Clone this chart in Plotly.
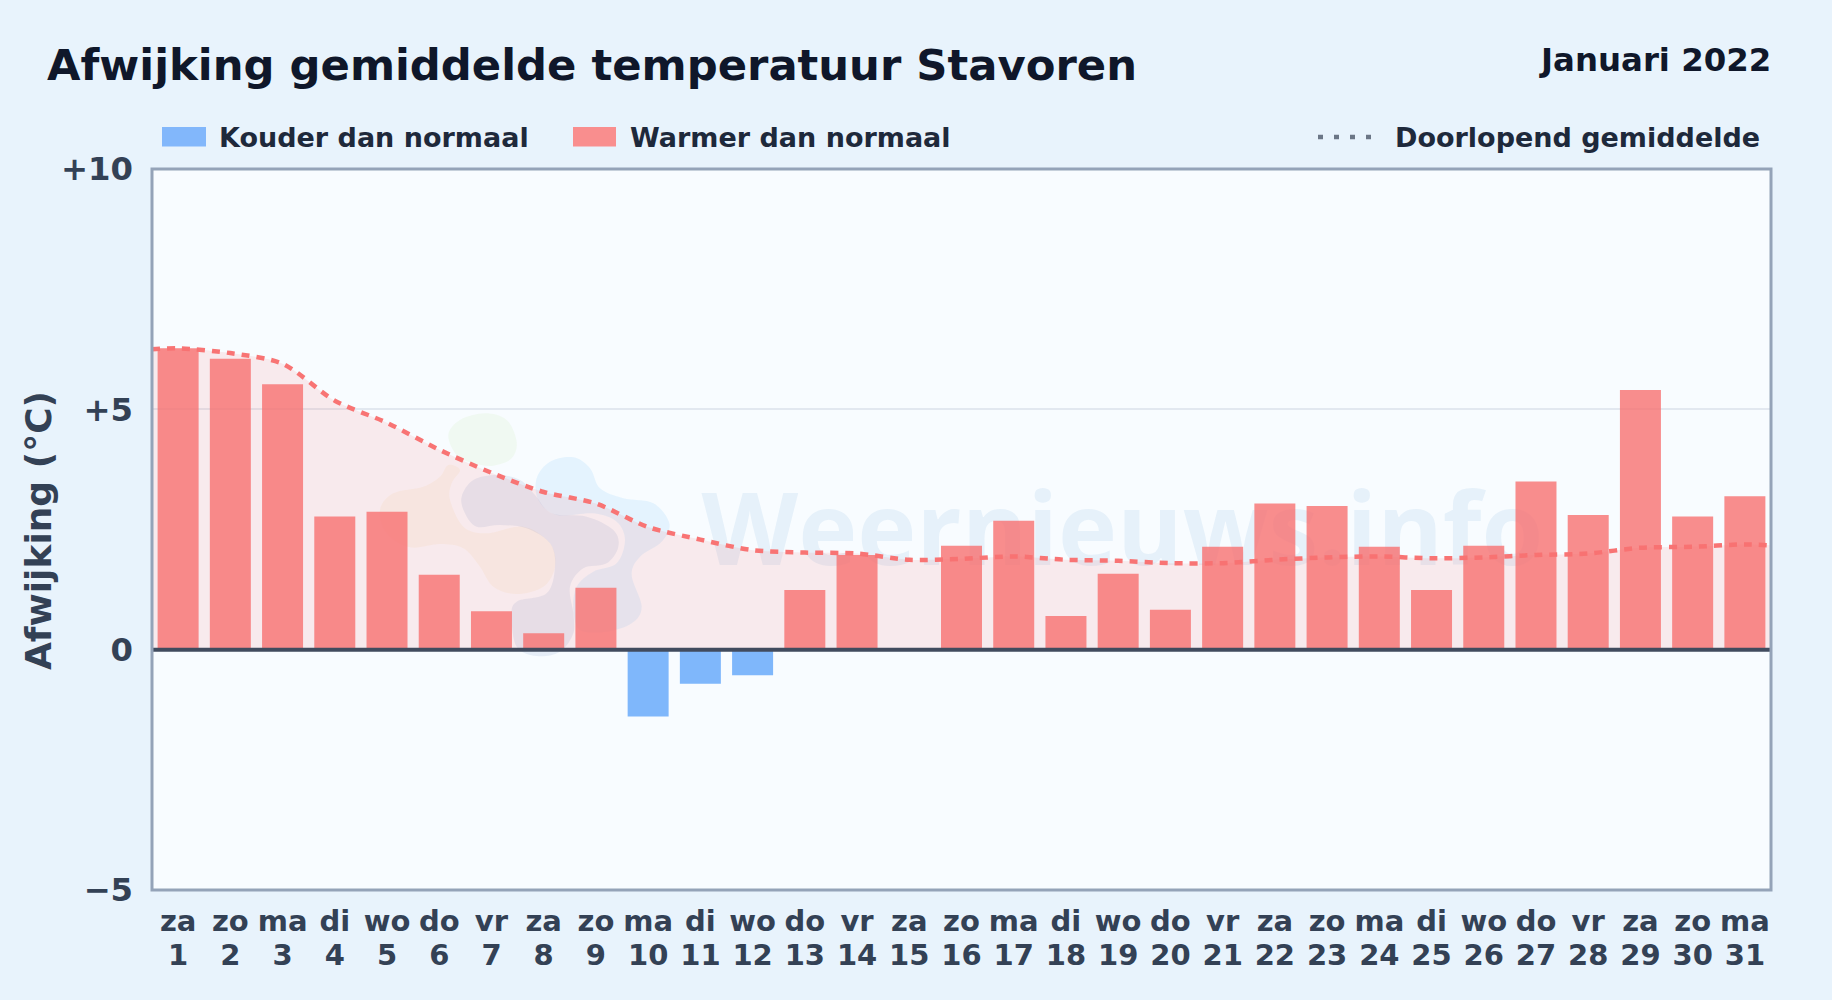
import plotly.graph_objects as go

# ---------- data ----------
days = list(range(1, 32))
weekdays = ["za","zo","ma","di","wo","do","vr","za","zo","ma","di","wo","do","vr","za","zo",
            "ma","di","wo","do","vr","za","zo","ma","di","wo","do","vr","za","zo","ma"]
deviation = [6.27,6.05,5.52,2.77,2.87,1.56,0.80,0.34,1.29,-1.39,-0.71,-0.53,1.24,1.97,0.0,2.16,
             2.68,0.70,1.58,0.83,2.14,3.04,2.99,2.14,1.24,2.16,3.50,2.80,5.40,2.77,3.19]
avg_x = [0.5] + days + [31.5]
running_avg = [6.25,6.27,6.17,5.95,5.18,4.72,4.16,3.68,3.28,3.04,2.55,2.29,2.07,2.02,2.00,1.87,1.89,
               1.94,1.87,1.85,1.80,1.80,1.87,1.92,1.94,1.90,1.92,1.97,2.00,2.12,2.14,2.19,2.17]
y_ticks = [-5, 0, 5, 10]
y_labels = ["−5", "0", "+5", "+10"]

W, H = 1832, 1000
L, R, T, B = 152, 1771, 169, 890
FONT = "DejaVu Sans"

# ---------- watermark outlines (crop-relative pixels, decoration only) ----------
BLOBS = {
 "rgba(175,225,130,0.10)": [(265,105),(300,60),(375,40),(440,60),(470,125),(455,175),(400,197),(340,190),(290,165)],
 "rgba(245,195,110,0.10)": [(265,195),(300,210),(275,250),(270,300),(310,380),(380,400),(490,380),(570,430),(585,500),
                            (550,560),(470,582),(400,560),(360,500),(310,445),(240,432),(150,442),(80,400),(60,330),
                            (100,280),(190,260),(240,230)],
 "rgba(125,200,250,0.16)": [(530,235),(570,185),(640,172),(690,205),(720,265),(790,295),(880,310),(928,370),(905,425),
                            (840,470),(815,525),(845,620),(815,670),(740,695),(660,690),(640,630),(650,560),(700,515),
                            (770,490),(795,420),(770,365),(700,340),(590,345),(535,300)],
 "rgba(80,120,185,0.11)": [(305,290),(340,240),(410,225),(480,240),(525,285),(575,340),(680,350),(760,390),(775,440),
                           (740,490),(670,505),(630,560),(640,640),(640,700),(600,755),(530,768),(470,740),(455,650),
                           (470,605),(560,580),(585,500),(570,430),(500,385),(420,375),(350,380),(315,340)],
}

# "paper" coordinates run over the plot area, so page pixels are converted to that frame
px = lambda v: (v - L) / (R - L)
py = lambda v: (B - v) / (B - T)

def blob_path(pts):
    P = [(px(360 + x / 3), py(400 + y / 3)) for x, y in pts]
    n = len(P)
    d = f"M{P[0][0]:.5f},{P[0][1]:.5f}"
    for i in range(n):
        p0, p1, p2, p3 = P[i-1], P[i], P[(i+1) % n], P[(i+2) % n]
        c1 = (p1[0] + (p2[0]-p0[0])/6, p1[1] + (p2[1]-p0[1])/6)
        c2 = (p2[0] - (p3[0]-p1[0])/6, p2[1] - (p3[1]-p1[1])/6)
        d += f"C{c1[0]:.5f},{c1[1]:.5f} {c2[0]:.5f},{c2[1]:.5f} {p2[0]:.5f},{p2[1]:.5f}"
    return d + "Z"

shapes = []
for color, pts in BLOBS.items():
    shapes.append(dict(type="path", xref="paper", yref="paper", path=blob_path(pts),
                       fillcolor=color, line=dict(width=0), layer="below"))
# watermark text
shapes.append(dict(type="rect", xref="paper", yref="paper", x0=px(702), x1=px(1543), y0=py(598), y1=py(468),
                   line=dict(width=0), fillcolor="rgba(0,0,0,0)", layer="below",
                   label=dict(text="<b>Weernieuws.info</b>", textposition="middle center",
                              font=dict(family="Open Sans", size=100, color="rgba(60,130,200,0.09)"))))
# zero line above the bars
shapes.append(dict(type="line", xref="paper", yref="y", x0=0, x1=1, y0=0, y1=0,
                   line=dict(color="#414b5e", width=4), layer="above"))
# plot frame, centred on the plot-area edge
shapes.append(dict(type="rect", xref="paper", yref="paper", x0=0, x1=1, y0=0, y1=1,
                   line=dict(color="#94a3b8", width=3), fillcolor="rgba(0,0,0,0)", layer="above"))
# legend samples
shapes += [
    dict(type="rect", xref="paper", yref="paper", x0=px(162), x1=px(206), y0=py(146.5), y1=py(127),
         fillcolor="#82b7fb", line=dict(width=0)),
    dict(type="rect", xref="paper", yref="paper", x0=px(573), x1=px(616), y0=py(146.5), y1=py(127),
         fillcolor="#f98e8e", line=dict(width=0)),
    dict(type="line", xref="paper", yref="paper", x0=px(1318), x1=px(1375), y0=py(137), y1=py(137),
         line=dict(color="#6b7686", width=4.5, dash="5px,11px")),
]

fig = go.Figure()
fig.add_bar(x=days, y=deviation, name="Afwijking", width=0.785, showlegend=False,
            marker=dict(color=["rgba(96,165,250,0.8)" if v < 0 else "rgba(248,113,113,0.8)" for v in deviation],
                        line=dict(width=0)))
fig.add_scatter(x=avg_x, y=running_avg, xaxis="x2", mode="lines", name="Doorlopend gemiddelde", showlegend=False,
                line=dict(color="rgba(248,113,113,0.98)", width=4.5, dash="8px,7px", shape="spline", smoothing=0.8),
                fill="tozeroy", fillcolor="rgba(248,113,113,0.13)")

def note(text, x, y, size, color, anchor="left", angle=0):
    return dict(text=text, xref="paper", yref="paper", x=px(x), y=py(y), xanchor=anchor, yanchor="middle",
                showarrow=False, textangle=angle, font=dict(family=FONT, size=size, color=color, weight="bold"))

tick_font = dict(family=FONT, size=29, color="#334155", weight="bold")
fig.update_layout(
    width=W, height=H, margin=dict(l=L, r=W-R, t=T, b=H-B, pad=0),
    paper_bgcolor="#e8f3fc", plot_bgcolor="#f8fcff", showlegend=False, bargap=0.2,
    font=dict(family=FONT),
    title=dict(text="Afwijking gemiddelde temperatuur Stavoren", x=47/W, xref="container", xanchor="left",
               y=1-65/H, yref="container", yanchor="middle",
               font=dict(family=FONT, size=43.3, color="#0f172a", weight="bold")),
    xaxis=dict(range=[0.5, 31.5], tickmode="array", tickvals=days, ticktext=weekdays, tickangle=0,
               tickfont=tick_font, showgrid=False, zeroline=False, showline=False,
               ticks="", ticklabelstandoff=11, automargin=False),
    xaxis2=dict(range=[0.5, 31.5], overlaying="x", anchor="y", side="bottom", tickmode="array", tickvals=days,
                ticktext=days, tickangle=0, tickfont=tick_font, showgrid=False, zeroline=False, showline=False,
                ticks="", ticklabelstandoff=45, automargin=False),
    yaxis=dict(range=[-5, 10], tickmode="array", tickvals=y_ticks, ticktext=y_labels,
               tickfont=dict(family=FONT, size=32.3, color="#334155", weight="bold"),
               showgrid=True, gridcolor="#e2e8f0", gridwidth=2, zeroline=False, showline=False,
               ticks="", ticklabelstandoff=18, automargin=False),
    shapes=shapes,
    annotations=[
        note("Januari 2022", 1772.5, 60, 32.4, "#0f172a", "right"),
        note("Kouder dan normaal", 216.5, 137, 27, "#1e293b"),
        note("Warmer dan normaal", 628, 137, 27, "#1e293b"),
        note("Doorlopend gemiddelde", 1761.5, 137, 27, "#1e293b", "right"),
        note("Afwijking (°C)", 38, 531, 36, "#334155", "center", -90),
    ],
)
fig.write_html("out.html", config={"displayModeBar": False},
               post_script="document.body.style.margin='0';document.body.style.overflow='hidden';")
